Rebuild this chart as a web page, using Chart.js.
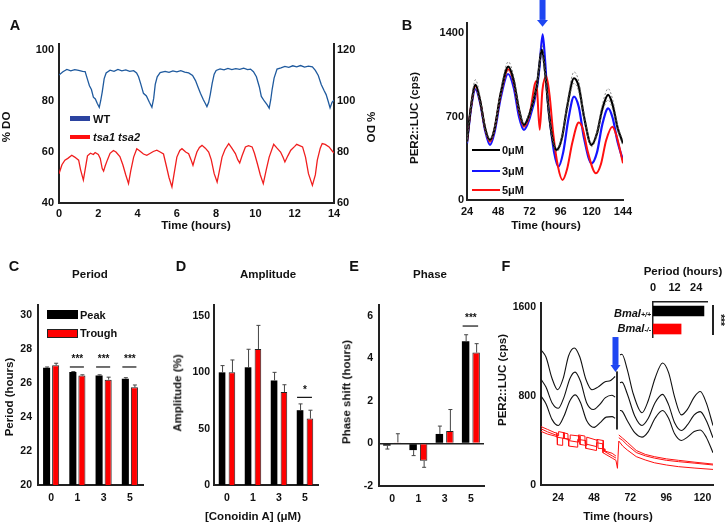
<!DOCTYPE html>
<html>
<head>
<meta charset="utf-8">
<script src="https://cdn.jsdelivr.net/npm/chart.js@4.4.1/dist/chart.umd.min.js"></script>
<style>
  body { margin: 0; background: #fff; }
  #fig { position: relative; width: 725px; height: 527px; overflow: hidden; background: #fff;
         font-family: 'Liberation Sans', Arial, Helvetica, sans-serif; font-weight: bold; color: #111; }
  #fig canvas { position: absolute; }
  .t { position: absolute; white-space: nowrap; transform: translate(-50%, -50%); line-height: 1; }
  .l { position: absolute; white-space: nowrap; transform: translate(0, -50%); line-height: 1; }
  .r { position: absolute; white-space: nowrap; transform: translate(-100%, -50%); line-height: 1; }
  .sw { position: absolute; }
</style>
</head>
<body>
<div id="fig"></div>
<script>
// ── Data ────────────────────────────────────────────────────────────────
// A: dissolved oxygen traces, [time (h), %DO]
const wtDO = [[0,90.2],[0.2,91.5],[0.4,92.4],[0.6,91.8],[0.8,92.3],[1.0,92.0],[1.2,91.6],[1.33,91.5],[1.45,88.5],[1.55,86.0],[1.65,84.5],[1.75,81.5],[1.85,80.8],[1.95,79.0],[2.05,77.5],[2.12,80.0],[2.2,83.5],[2.3,88.8],[2.4,91.0],[2.6,92.1],[2.8,91.6],[3.0,92.4],[3.2,91.8],[3.4,92.2],[3.6,91.6],[3.8,91.9],[3.95,91.0],[4.05,89.5],[4.15,87.0],[4.3,83.0],[4.45,82.0],[4.6,79.5],[4.73,77.5],[4.82,81.0],[4.9,86.5],[5.0,89.5],[5.15,91.1],[5.4,91.6],[5.6,91.2],[5.8,91.8],[6.0,91.4],[6.2,91.9],[6.4,91.3],[6.6,91.0],[6.8,90.0],[6.95,88.0],[7.1,85.0],[7.2,83.0],[7.35,80.5],[7.45,79.0],[7.53,77.8],[7.62,79.5],[7.7,82.5],[7.8,87.0],[7.9,90.5],[8.0,92.0],[8.2,92.6],[8.4,92.2],[8.6,92.8],[8.8,92.3],[9.0,92.7],[9.2,92.4],[9.4,92.9],[9.6,92.3],[9.75,92.5],[9.9,91.5],[10.05,89.5],[10.2,85.5],[10.3,81.8],[10.45,80.0],[10.6,78.5],[10.7,77.2],[10.78,80.5],[10.85,84.5],[10.95,89.0],[11.1,92.5],[11.3,93.0],[11.5,93.6],[11.7,93.2],[11.9,93.8],[12.1,93.4],[12.3,93.9],[12.5,93.3],[12.7,93.7],[12.9,93.4],[13.05,92.0],[13.2,90.0],[13.35,86.5],[13.5,84.0],[13.6,82.5],[13.7,80.0],[13.8,77.3],[13.9,79.5],[14.0,80.3]];
// tsa1 tsa2 is read on the right-hand axis
const tsaDO = [[0,71.5],[0.15,75.0],[0.3,76.8],[0.45,77.5],[0.65,78.7],[0.8,78.0],[1.0,76.8],[1.1,73.0],[1.24,69.0],[1.35,74.0],[1.45,78.5],[1.6,79.5],[1.75,79.0],[1.84,79.8],[2.0,79.0],[2.1,77.5],[2.2,73.5],[2.27,72.5],[2.35,74.5],[2.47,77.0],[2.6,79.5],[2.77,80.6],[2.9,80.0],[3.1,78.2],[3.25,75.0],[3.4,71.0],[3.54,67.6],[3.65,72.5],[3.8,78.0],[3.96,81.3],[4.1,80.5],[4.3,79.2],[4.47,78.7],[4.65,79.5],[4.8,80.2],[4.98,80.7],[5.15,80.0],[5.32,79.2],[5.45,75.0],[5.6,70.0],[5.75,66.3],[5.85,71.0],[6.0,78.0],[6.15,80.6],[6.26,81.3],[6.45,80.0],[6.6,79.3],[6.72,77.0],[6.82,74.8],[6.92,77.5],[7.02,80.0],[7.15,81.8],[7.28,82.6],[7.45,81.5],[7.62,80.0],[7.75,77.0],[7.9,71.5],[8.05,68.2],[8.15,72.0],[8.3,78.0],[8.45,81.0],[8.64,83.3],[8.8,81.5],[8.98,79.4],[9.1,77.0],[9.2,75.7],[9.32,78.5],[9.49,82.0],[9.65,82.5],[9.83,82.0],[9.95,79.5],[10.1,75.4],[10.25,71.0],[10.4,67.6],[10.55,73.0],[10.7,78.0],[10.93,83.0],[11.1,81.5],[11.28,80.0],[11.4,78.0],[11.5,76.1],[11.65,78.5],[11.8,80.7],[12.0,82.2],[12.1,83.0],[12.25,82.5],[12.4,82.0],[12.55,78.0],[12.7,71.5],[12.9,66.9],[13.05,71.0],[13.15,76.8],[13.3,81.5],[13.4,83.3],[13.55,83.0],[13.75,82.0],[13.9,80.5],[14.0,79.6]];
const aTimeTicks = [0, 2, 4, 6, 8, 10, 12, 14];
const aLeftTicks = [40, 60, 80, 100];
const aRightTicks = [60, 80, 100, 120];

// B: PER2::LUC bioluminescence, [time (h), cps]
const b0uM = [[24,490],[27,780],[30.5,966],[34,840],[38,600],[41.7,504],[45,590],[50,900],[55.8,1120],[60,1000],[64,760],[67.8,630],[72,720],[77.6,952],[81.7,1260],[84,1080],[87.3,700],[90,500],[93,420],[97,520],[101,780],[106.3,1022],[110,950],[114,700],[119.8,462],[124,560],[128,760],[132.6,882],[136,800],[140,600],[144,476]];
const b0uMHi = [[24,500],[27,800],[30.5,1010],[34,870],[38,615],[41.7,515],[45,605],[50,930],[55.8,1160],[60,1035],[64,780],[67.8,645],[72,740],[77.6,985],[81.7,1300],[84,1110],[87.3,720],[90,515],[93,435],[97,540],[101,810],[106.3,1075],[110,995],[114,730],[119.8,478],[124,580],[128,795],[132.6,935],[136,845],[140,625],[144,495]];
const b0uMLo = [[24,480],[27,760],[30.5,940],[34,815],[38,585],[41.7,493],[45,575],[50,875],[55.8,1085],[60,970],[64,740],[67.8,615],[72,700],[77.6,925],[81.7,1220],[84,1050],[87.3,680],[90,485],[93,405],[97,500],[101,755],[106.3,980],[110,910],[114,675],[119.8,448],[124,540],[128,730],[132.6,840],[136,760],[140,575],[144,458]];
const b3uM = [[24,476],[27,760],[30.5,930],[34,820],[38,580],[41.7,462],[45,560],[50,860],[55.6,1058],[60,940],[64,700],[67.8,588],[72,680],[77.6,924],[79.8,1120],[82.2,1390],[84,1180],[86,850],[88.5,600],[91,400],[94.3,280],[98,400],[102,680],[106.3,868],[110,780],[114,520],[119.8,308],[124,400],[128,630],[132.6,770],[136,690],[140,480],[144,336]];
const b5uM = [[24,490],[27,775],[30.5,958],[34,835],[38,595],[41.7,490],[45,585],[50,890],[55.8,1098],[60,985],[64,745],[67.8,616],[72,710],[77.3,1000],[79.9,590],[82,920],[85,1036],[87.5,880],[90.3,560],[94,280],[97.5,168],[101,260],[105,480],[110,650],[113,600],[117,400],[123.2,224],[127,300],[131,500],[135.8,616],[139,540],[144,308]];
const bTimeTicks = [24, 48, 72, 96, 120, 144];
const bLucTicks = [0, 700, 1400];

// C-E: Conoidin A dose series (peak / trough), with SEM
const doses = ['0', '1', '3', '5'];
const periodPeak = [26.9, 26.65, 26.45, 26.25];
const periodTrough = [27.05, 26.45, 26.2, 25.75];
const periodPeakErr = [0.05, 0.03, 0.04, 0.07];
const periodTroughErr = [0.12, 0.04, 0.15, 0.14];
const periodTicks = [20, 22, 24, 26, 28, 30];

const ampPeak = [100, 104.5, 92.8, 66.4];
const ampTrough = [100, 120.7, 82.5, 59];
const ampPeakErr = [6, 16, 7.2, 5.6];
const ampTroughErr = [11, 21, 6.5, 7.4];
const ampTicks = [0, 50, 100, 150];

const phasePeak = [-0.1, -0.31, 0.45, 4.81];
const phaseTrough = [0.05, -0.81, 0.59, 4.28];
const phasePeakErr = [-0.16, -0.26, 0.37, 0.31];
const phaseTroughErr = [0.41, -0.31, 1.01, 0.42];
const phaseTicks = [-2, 0, 2, 4, 6];

// F: Bmal traces, [time (h), cps]; null = break at treatment
const fTop = [[12.7,1215],[16,1150],[20,960],[23.8,856],[27.5,960],[31,1160],[34.8,1232],[38.5,1150],[42.5,950],[46.6,856],[50.5,880],[55,925],[59,940],[62,975],[64,null],[65.2,1170],[66.5,1175],[70,1040],[74,820],[79.8,650],[84,760],[88.5,960],[93.5,1097],[97.5,1010],[101.5,790],[106,630],[110,680],[114.5,790],[118.5,840],[122.5,740],[127,535]];
const fMid = [[12.7,950],[16,880],[20,740],[24.2,690],[28,790],[32,960],[35.3,1015],[39,930],[43,740],[47.5,678],[51.5,720],[55.5,785],[59.8,807],[62,790],[64,null],[65.2,920],[66.5,925],[70,820],[75,620],[79.8,535],[84,600],[88.5,740],[93.5,815],[97.5,720],[101.5,560],[106,490],[110,540],[114.5,630],[118.5,660],[122.5,580],[127,425]];
const fLow = [[12.7,800],[16,730],[20,590],[24.2,535],[28,620],[32,760],[35.5,810],[39,740],[43,580],[48,518],[52,560],[56,610],[60,615],[62,600],[64,null],[65.2,670],[66.5,665],[70,580],[75,470],[79.8,430],[84,480],[88.5,600],[93.5,670],[97.5,600],[101.5,460],[106,400],[110,430],[114.5,480],[118.5,495],[122.5,430],[127,290]];
const fSpike = [[63.2,1020],[63.2,500]];
const fRed1 = [[12.7,525],[17,500],[22,470],[23.2,468],[23.3,430],[27.5,420],[27.6,470],[30.6,460],[30.7,400],[37.5,385],[37.6,450],[41.9,440],[42,370],[49.7,345],[49.8,410],[54,400],[54.1,310],[60,285],[62.5,260],[63,null],[64.4,450],[67,420],[70,385],[76,310],[82,275],[88,255],[96,235],[104,222],[115,205],[127,188]];
const fRed2 = [[12.7,505],[17,478],[22,452],[24.3,442],[24.4,480],[28,470],[28.1,420],[32,410],[32.1,450],[38.5,440],[38.6,365],[43,355],[43.1,430],[50.5,400],[50.6,330],[55,325],[55.1,300],[60,262],[62.5,242],[63,null],[64.4,425],[67,400],[70,360],[76,292],[82,262],[88,242],[96,222],[104,210],[115,196],[127,180]];
const fRed3 = [[12.7,482],[17,458],[22,440],[23.5,432],[23.6,362],[27,356],[27.1,420],[31,410],[31.1,350],[37,340],[37.1,410],[42.3,400],[42.4,330],[49.5,310],[49.6,380],[53.8,370],[53.9,290],[60,242],[62.5,222],[63.5,150],[64.4,395],[67,350],[70,315],[76,255],[82,225],[88,200],[96,180],[104,165],[115,152],[127,140]];
const fTimeTicks = [24, 48, 72, 96, 120];
const fLucTicks = [0, 800, 1600];

// F inset: period per genotype
const insetGenotypes = ['Bmal+/+', 'Bmal-/-'];
const insetPeriod = [28.3, 15.6];
const insetTicks = [0, 12, 24];

// ── Setup ───────────────────────────────────────────────────────────────
const FONT = "'Liberation Sans', Arial, Helvetica, sans-serif";
Chart.defaults.font.family = FONT;
Chart.defaults.font.weight = 'bold';
Chart.defaults.color = '#111';
Chart.defaults.animation = false;
Chart.defaults.devicePixelRatio = 1;
Chart.defaults.plugins.legend.display = false;
Chart.defaults.plugins.tooltip.enabled = false;

const fig = document.getElementById('fig');
const AXIS = { display: true, color: '#222', width: 2 };
const NOGRID = { display: false, drawTicks: false, tickLength: 0 };
const RED = '#ff1010';
const plain = v => String(v);
const pts = arr => arr.map(([x, y]) => ({ x, y }));
const fixTicks = list => s => { s.ticks = list.map(v => ({ value: v })); };

function canvasAt(left, top, w, h) {
  const c = document.createElement('canvas');
  c.width = w; c.height = h;
  c.style.left = left + 'px'; c.style.top = top + 'px';
  c.style.width = w + 'px'; c.style.height = h + 'px';
  fig.appendChild(c);
  return c;
}

function text(html, x, y, opts = {}) {
  const d = document.createElement('div');
  d.className = opts.cls || 't';
  d.innerHTML = html;
  d.style.left = x + 'px'; d.style.top = y + 'px';
  d.style.fontSize = (opts.size || 11.5) + 'px';
  if (opts.italic) d.style.fontStyle = 'italic';
  if (opts.rot) d.style.transform = `translate(-50%, -50%) rotate(${opts.rot}deg)`;
  fig.appendChild(d);
}

function swatch(x, y, w, h, color, border) {
  const d = document.createElement('div');
  d.className = 'sw';
  Object.assign(d.style, { left: x + 'px', top: y + 'px', width: w + 'px', height: h + 'px', background: color,
    boxSizing: 'border-box', border: border ? '1px solid #222' : 'none' });
  fig.appendChild(d);
}

// blue treatment arrow, anchored in data coordinates
function arrowPlugin(xv, yTop, yHead, yTip, headW) {
  return {
    id: 'arrow',
    afterDatasetsDraw(chart) {
      const { ctx, scales: { x, y } } = chart;
      const px = x.getPixelForValue(xv);
      const top = y.getPixelForValue(yTop), head = y.getPixelForValue(yHead), tip = y.getPixelForValue(yTip);
      ctx.save();
      ctx.fillStyle = '#1e46f2';
      ctx.fillRect(px - 3, top, 6, head - top);
      ctx.beginPath();
      ctx.moveTo(px - headW / 2, head); ctx.lineTo(px + headW / 2, head); ctx.lineTo(px, tip);
      ctx.closePath(); ctx.fill();
      ctx.restore();
    }
  };
}

// SEM whiskers + significance bars for the dose charts
function barExtras(errs, sigIdx, sigLine, sigText, sigLabel) {
  return {
    id: 'barExtras',
    afterDatasetsDraw(chart) {
      const { ctx, scales: { y } } = chart;
      ctx.save();
      ctx.strokeStyle = '#444'; ctx.lineWidth = 1;
      chart.data.datasets.forEach((ds, di) => {
        chart.getDatasetMeta(di).data.forEach((bar, i) => {
          const yEnd = y.getPixelForValue(ds.data[i] + errs[di][i]);
          ctx.beginPath();
          ctx.moveTo(bar.x + 0.5, bar.y); ctx.lineTo(bar.x + 0.5, yEnd);
          ctx.moveTo(bar.x - 1.5, yEnd); ctx.lineTo(bar.x + 2.5, yEnd);
          ctx.stroke();
        });
      });
      const m0 = chart.getDatasetMeta(0).data, m1 = chart.getDatasetMeta(1).data;
      ctx.strokeStyle = '#111'; ctx.lineWidth = 1.2;
      ctx.fillStyle = '#111';
      ctx.font = `bold 10px ${FONT}`;
      ctx.textAlign = 'center'; ctx.textBaseline = 'middle';
      sigIdx.forEach(i => {
        const ly = y.getPixelForValue(sigLine);
        ctx.beginPath(); ctx.moveTo(m0[i].x - 3, ly); ctx.lineTo(m1[i].x + 2, ly); ctx.stroke();
        ctx.fillText(sigLabel, (m0[i].x + m1[i].x) / 2, y.getPixelForValue(sigText));
      });
      ctx.restore();
    }
  };
}

function lineDs(arr, color, width, extra = {}) {
  return Object.assign({ data: pts(arr), borderColor: color, borderWidth: width, pointRadius: 0, tension: 0, spanGaps: false }, extra);
}

// ── A: % DO ─────────────────────────────────────────────────────────────
new Chart(canvasAt(0, 30, 380, 215), {
  type: 'line',
  data: { datasets: [
    lineDs(wtDO, '#1f5a9e', 1.3, { yAxisID: 'y' }),
    lineDs(tsaDO, '#f01e1e', 1.3, { yAxisID: 'y1' })
  ]},
  options: {
    responsive: false,
    layout: { padding: { top: 14, right: 0, bottom: 0, left: 0 } },
    scales: {
      x: { type: 'linear', min: 0, max: 14, afterBuildTicks: fixTicks(aTimeTicks), afterFit: s => { s.height = 42; },
           grid: NOGRID, border: AXIS, ticks: { font: { size: 11 }, padding: 4, maxRotation: 0, autoSkip: false, callback: plain } },
      y: { position: 'left', min: 40, max: 102.35, afterBuildTicks: fixTicks(aLeftTicks), afterFit: s => { s.width = 59; },
           grid: NOGRID, border: AXIS, ticks: { font: { size: 11 }, padding: 5, callback: plain } },
      y1: { position: 'right', min: 60, max: 122.35, afterBuildTicks: fixTicks(aRightTicks), afterFit: s => { s.width = 46; },
           grid: NOGRID, border: AXIS, ticks: { font: { size: 11 }, padding: 3, callback: plain } }
    }
  }
});

// ── B: PER2::LUC dose ───────────────────────────────────────────────────
new Chart(canvasAt(380, 0, 260, 240), {
  type: 'line',
  data: { datasets: [
    lineDs(b0uMHi, '#666', 0.8, { borderDash: [2, 2], cubicInterpolationMode: 'monotone' }),
    lineDs(b0uMLo, '#666', 0.8, { borderDash: [2, 2], cubicInterpolationMode: 'monotone' }),
    lineDs(b0uM, '#000', 2.2, { cubicInterpolationMode: 'monotone' }),
    lineDs(b5uM, RED, 2, { cubicInterpolationMode: 'monotone' }),
    lineDs(b3uM, '#1414ff', 2.2, { cubicInterpolationMode: 'monotone' })
  ]},
  options: {
    responsive: false,
    layout: { padding: { top: 23, right: 17, bottom: 0, left: 0 } },
    scales: {
      x: { type: 'linear', min: 24, max: 144, afterBuildTicks: fixTicks(bTimeTicks), afterFit: s => { s.height = 40; },
           grid: NOGRID, border: AXIS, ticks: { font: { size: 11 }, padding: 5, maxRotation: 0, autoSkip: false, callback: plain } },
      y: { min: 0, max: 1486, afterBuildTicks: fixTicks(bLucTicks), afterFit: s => { s.width = 87; },
           grid: NOGRID, border: AXIS, ticks: { font: { size: 11 }, padding: 3, callback: plain } }
    }
  },
  plugins: [arrowPlugin(82.1, 1679, 1512, 1455, 11)]
});

// ── C, D, E: dose bar charts ────────────────────────────────────────────
function doseChart(left, width, padRight, yAxisW, tickPad, peak, trough, yMin, yMax, yTicks, catPct, barPct, extras, zeroLine) {
  return new Chart(canvasAt(left, 250, width, 277), {
    type: 'bar',
    data: { labels: doses, datasets: [
      { label: 'Peak', data: peak, backgroundColor: '#000', borderWidth: 0, categoryPercentage: catPct, barPercentage: barPct },
      { label: 'Trough', data: trough, backgroundColor: '#ff0000', borderColor: '#222', borderWidth: 1, categoryPercentage: catPct, barPercentage: barPct }
    ]},
    options: {
      responsive: false,
      layout: { padding: { top: 55, right: padRight, bottom: 0, left: 0 } },
      scales: {
        x: { afterFit: s => { s.height = zeroLine ? 41 : 42; }, grid: NOGRID, border: AXIS,
             ticks: { font: { size: 10.5 }, padding: 7, maxRotation: 0 } },
        y: { min: yMin, max: yMax, afterBuildTicks: fixTicks(yTicks), afterFit: s => { s.width = yAxisW; }, border: AXIS,
             grid: zeroLine ? { display: true, drawTicks: false, tickLength: 0, lineWidth: 1.5,
                                color: c => c.tick && c.tick.value === 0 ? '#222' : 'rgba(0,0,0,0)' } : NOGRID,
             ticks: { font: { size: 10.5 }, padding: tickPad, callback: plain } }
      }
    },
    plugins: [extras]
  });
}

doseChart(0, 180, 37, 38, 6, periodPeak, periodTrough, 20, 30.6, periodTicks, 0.69, 0.78,
  barExtras([periodPeakErr, periodTroughErr], [1, 2, 3], 26.95, 27.4, '***'), false);
doseChart(180, 180, 42, 34, 4, ampPeak, ampTrough, 0, 159.8, ampTicks, 0.76, 0.67,
  barExtras([ampPeakErr, ampTroughErr], [3], 77.8, 84.5, '*'), false);
doseChart(360, 130, 6, 19, 6, phasePeak, phaseTrough, -2, 6.52, phaseTicks, 0.8, 0.71,
  barExtras([phasePeakErr, phaseTroughErr], [3], 5.53, 5.9, '***'), true);

// ── F: Bmal traces ──────────────────────────────────────────────────────
new Chart(canvasAt(490, 250, 235, 277), {
  type: 'line',
  data: { datasets: [
    lineDs(fRed1, RED, 1),
    lineDs(fRed2, RED, 1),
    lineDs(fRed3, RED, 1),
    lineDs(fTop, '#111', 1.1, { cubicInterpolationMode: 'monotone' }),
    lineDs(fMid, '#111', 1.1, { cubicInterpolationMode: 'monotone' }),
    lineDs(fLow, '#111', 1.1, { cubicInterpolationMode: 'monotone' }),
    lineDs(fSpike, '#111', 1)
  ]},
  options: {
    responsive: false,
    layout: { padding: { top: 53, right: 12, bottom: 0, left: 0 } },
    scales: {
      x: { type: 'linear', min: 12.7, max: 127, afterBuildTicks: fixTicks(fTimeTicks), afterFit: s => { s.height = 42; },
           grid: NOGRID, border: AXIS, ticks: { font: { size: 10.5 }, padding: 7, maxRotation: 0, autoSkip: false, callback: plain } },
      y: { min: 0, max: 1636, afterBuildTicks: fixTicks(fLucTicks), afterFit: s => { s.width = 51; },
           grid: NOGRID, border: AXIS, ticks: { font: { size: 10.5 }, padding: 5, callback: plain } }
    }
  },
  plugins: [arrowPlugin(62.2, 1330, 1079, 1016, 10)]
});

// F inset: period per genotype
new Chart(canvasAt(600, 278, 125, 60), {
  type: 'bar',
  data: { labels: insetGenotypes, datasets: [
    { data: insetPeriod, backgroundColor: ['#000', '#ff0000'], borderWidth: 0, barThickness: 10 }
  ]},
  options: {
    responsive: false,
    indexAxis: 'y',
    layout: { padding: { top: 0, right: 18, bottom: 0, left: 0 } },
    scales: {
      x: { position: 'top', min: 0, max: 30, afterBuildTicks: fixTicks(insetTicks), afterFit: s => { s.height = 24; },
           grid: NOGRID, border: { display: true, color: '#222', width: 1.5 },
           ticks: { font: { size: 11 }, padding: 7, maxRotation: 0, autoSkip: false, callback: plain } },
      y: { afterFit: s => { s.width = 53; }, grid: NOGRID, border: { display: true, color: '#222', width: 1.5 },
           ticks: { display: false } }
    }
  }
});

// ── Text, legends ───────────────────────────────────────────────────────
[['A', 15, 25], ['B', 407, 25], ['C', 14, 266], ['D', 181, 266], ['E', 354, 266], ['F', 506, 266]]
  .forEach(([s, x, y]) => text(s, x, y, { size: 14.5 }));

text('Period', 90, 275);
text('Amplitude', 268, 275);
text('Phase', 430, 275);

text('% DO', 7, 127, { rot: -90 });
text('% DO', 370, 127, { rot: 90 });
text('Time (hours)', 196, 226);
text('PER2::LUC (cps)', 415, 118, { rot: -90 });
text('Time (hours)', 546, 226);
text('Period (hours)', 10, 397, { rot: -90 });
text('Amplitude (%)', 178, 393, { rot: -90 });
text('Phase shift (hours)', 347, 392, { rot: -90 });
text('[Conoidin A] (μM)', 253, 517);
text('PER2::LUC (cps)', 503, 380, { rot: -90 });
text('Time (hours)', 618, 517);

// A legend
swatch(70, 116, 20, 4.5, '#2b43a0');
text('WT', 93, 118.5, { cls: 'l', size: 11 });
swatch(70, 134.5, 20, 4.5, RED);
text('tsa1 tsa2', 93, 137, { cls: 'l', size: 11, italic: true });

// B legend
[['0μM', '#000', 150], ['3μM', '#1414ff', 171], ['5μM', RED, 190]].forEach(([s, c, y]) => {
  swatch(472, y - 1, 28, 2.2, c);
  text(s, 502, y, { cls: 'l', size: 11 });
});

// C legend
swatch(47, 310, 31, 9, '#000');
text('Peak', 80, 315, { cls: 'l', size: 11 });
swatch(47, 328.5, 31, 9, '#ff0000', true);
text('Trough', 80, 333, { cls: 'l', size: 11 });

// F inset labels
text('Period (hours)', 683, 272, { size: 11.5 });
text('Bmal<span style="font-size:7px">+/+</span>', 651, 313, { cls: 'r', size: 11, italic: true });
text('Bmal<span style="font-size:7px">-/-</span>', 651, 328, { cls: 'r', size: 11, italic: true });
swatch(712, 305, 1.5, 30, '#222');
text('***', 720, 320, { size: 10, rot: 90 });
</script>
</body>
</html>
